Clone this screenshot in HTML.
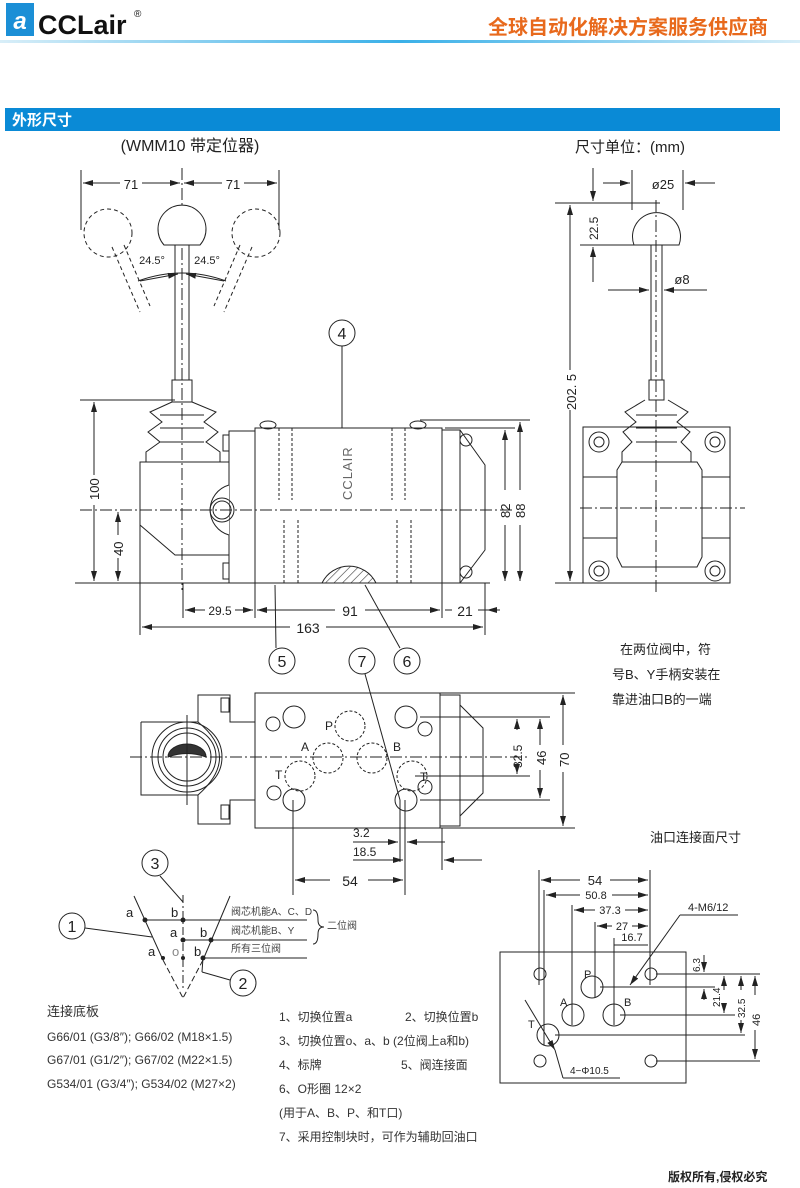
<!DOCTYPE html>
<html><head><meta charset="utf-8"><style>
body{margin:0;background:#fff;}
svg{display:block;font-family:"Liberation Sans","Noto Sans CJK SC",sans-serif;}
</style></head><body>
<svg width="800" height="1188" viewBox="0 0 800 1188" xmlns="http://www.w3.org/2000/svg">
<defs>
<linearGradient id="hl" x1="0" x2="1"><stop offset="0" stop-color="#d8eef8"/><stop offset="0.5" stop-color="#3ab0e8"/><stop offset="1" stop-color="#d8eef8"/></linearGradient>
<marker id="a" viewBox="0 0 10 6" refX="10" refY="3" markerWidth="10" markerHeight="6" orient="auto-start-reverse"><path d="M0,0L10,3L0,6z" fill="#222"/></marker>
<pattern id="h" width="6" height="6" patternUnits="userSpaceOnUse" patternTransform="rotate(45)"><line x1="0" y1="0" x2="0" y2="6" stroke="#333" stroke-width="1.2"/></pattern>
</defs>
<!-- header -->
<rect x="6" y="3" width="28" height="33" fill="#1b8fd6"/>
<text x="20" y="29" font-size="24" font-style="italic" font-weight="bold" fill="#fff" text-anchor="middle">a</text>
<text x="38" y="34" font-size="27" font-weight="bold" fill="#111">CCLair</text>
<text x="134" y="17" font-size="10" fill="#111">®</text>
<text x="768" y="34" font-size="20" font-weight="bold" fill="#e8691c" text-anchor="end">全球自动化解决方案服务供应商</text>
<rect x="0" y="40" width="800" height="3" fill="url(#hl)"/>
<rect x="5" y="108" width="775" height="23" fill="#0a8ad6"/>
<text x="12" y="125" font-size="15" font-weight="bold" fill="#fff">外形尺寸</text>

<g fill="none" stroke="#222" stroke-width="1">
<!-- ===== front view ===== -->
<text x="190" y="151" font-size="16" fill="#222" stroke="none" text-anchor="middle">(WMM10 带定位器)</text>
<line x1="81" y1="170" x2="81" y2="230"/><line x1="279" y1="170" x2="279" y2="230"/><line x1="182" y1="168" x2="182" y2="590" stroke-dasharray="12,3,2,3"/>
<line x1="83" y1="183" x2="120" y2="183" marker-start="url(#a)"/><line x1="142" y1="183" x2="180" y2="183" marker-end="url(#a)"/>
<line x1="184" y1="183" x2="222" y2="183" marker-start="url(#a)"/><line x1="244" y1="183" x2="277" y2="183" marker-end="url(#a)"/>
<text x="131" y="189" font-size="13" fill="#222" stroke="none" text-anchor="middle">71</text>
<text x="233" y="189" font-size="13" fill="#222" stroke="none" text-anchor="middle">71</text>
<path d="M164,245 A24,24 0 1 1 200,245 Z" fill="#fff"/>
<rect x="175" y="245" width="14" height="135"/><rect x="172" y="380" width="20" height="22"/>
<g stroke-dasharray="4,3"><circle cx="108" cy="233" r="24"/><circle cx="256" cy="233" r="24"/>
<line x1="112" y1="247" x2="140" y2="312"/><line x1="124" y1="245" x2="150" y2="306"/>
<line x1="252" y1="247" x2="224" y2="312"/><line x1="240" y1="245" x2="214" y2="306"/></g>
<path d="M138,281 Q182,265 226,281" /><line x1="140" y1="281" x2="178" y2="274" marker-end="url(#a)"/><line x1="224" y1="281" x2="186" y2="274" marker-end="url(#a)"/>
<text x="152" y="264" font-size="11" fill="#222" stroke="none" text-anchor="middle">24.5°</text>
<text x="207" y="264" font-size="11" fill="#222" stroke="none" text-anchor="middle">24.5°</text>
<path d="M172,402 L150,412 L162,422 L148,432 L160,442 L146,452 L146,462 L220,462 L220,452 L206,442 L218,432 L204,422 L216,412 L192,402"/>
<line x1="160" y1="415" x2="204" y2="415"/><line x1="160" y1="428" x2="204" y2="428"/><line x1="160" y1="442" x2="204" y2="442"/>
<rect x="140" y="462" width="89" height="121"/>
<path d="M140,525 L175,555 L229,555"/>
<rect x="229" y="431" width="26" height="152"/>
<path d="M229,485 A26,26 0 0 0 229,535" fill="#fff"/><circle cx="222" cy="510" r="12"/><circle cx="222" cy="510" r="9"/>
<rect x="223" y="435" width="6" height="16"/><rect x="223" y="563" width="6" height="16"/>
<rect x="255" y="428" width="187" height="155"/>
<g stroke-dasharray="3,2"><line x1="279" y1="428" x2="279" y2="500"/><line x1="292" y1="428" x2="292" y2="500"/><line x1="284" y1="520" x2="284" y2="583"/><line x1="298" y1="520" x2="298" y2="583"/>
<line x1="392" y1="428" x2="392" y2="500"/><line x1="405" y1="428" x2="405" y2="500"/><line x1="397" y1="520" x2="397" y2="583"/><line x1="411" y1="520" x2="411" y2="583"/></g>
<text x="0" y="0" font-size="13" fill="#666" stroke="none" transform="translate(352,500) rotate(-90)" letter-spacing="1">CCLAIR</text>
<path d="M322,583 A30,30 0 0 1 376,583 Z" fill="url(#h)"/>
<rect x="442" y="430" width="18" height="153"/><path d="M460,430 L485,465 L485,550 L460,583"/>
<circle cx="466" cy="440" r="6"/><circle cx="466" cy="572" r="6"/>
<ellipse cx="268" cy="425" rx="8" ry="4"/><ellipse cx="418" cy="425" rx="8" ry="4"/>
<line x1="80" y1="510" x2="515" y2="510" stroke-dasharray="12,3,2,3"/>
<line x1="75" y1="583" x2="490" y2="583"/>
<line x1="80" y1="400" x2="175" y2="400"/><line x1="94" y1="402" x2="94" y2="475" marker-start="url(#a)"/><line x1="94" y1="505" x2="94" y2="581" marker-end="url(#a)"/>
<text x="0" y="0" font-size="13" fill="#222" stroke="none" transform="translate(99,500) rotate(-90)">100</text>
<line x1="118" y1="512" x2="118" y2="535" marker-start="url(#a)"/><line x1="118" y1="558" x2="118" y2="581" marker-end="url(#a)"/>
<text x="0" y="0" font-size="13" fill="#222" stroke="none" transform="translate(123,556) rotate(-90)">40</text>
<line x1="420" y1="420" x2="530" y2="420"/><line x1="445" y1="428" x2="515" y2="428"/>
<line x1="505" y1="430" x2="505" y2="490" marker-start="url(#a)"/><line x1="505" y1="525" x2="505" y2="581" marker-end="url(#a)"/>
<text x="0" y="0" font-size="13" fill="#222" stroke="none" transform="translate(510,518) rotate(-90)">82</text>
<line x1="520" y1="422" x2="520" y2="490" marker-start="url(#a)"/><line x1="520" y1="525" x2="520" y2="581" marker-end="url(#a)"/>
<text x="0" y="0" font-size="13" fill="#222" stroke="none" transform="translate(525,518) rotate(-90)">88</text>
<line x1="140" y1="583" x2="140" y2="635"/><line x1="183" y1="583" x2="183" y2="618"/><line x1="255" y1="583" x2="255" y2="618"/><line x1="442" y1="583" x2="442" y2="618"/><line x1="485" y1="583" x2="485" y2="635"/>
<line x1="185" y1="610" x2="205" y2="610" marker-start="url(#a)"/><line x1="235" y1="610" x2="253" y2="610" marker-end="url(#a)"/>
<text x="220" y="615" font-size="12" fill="#222" stroke="none" text-anchor="middle">29.5</text>
<line x1="257" y1="610" x2="335" y2="610" marker-start="url(#a)"/><line x1="365" y1="610" x2="440" y2="610" marker-end="url(#a)"/>
<text x="350" y="616" font-size="14" fill="#222" stroke="none" text-anchor="middle">91</text>
<line x1="445" y1="610" x2="452" y2="610"/><line x1="478" y1="610" x2="500" y2="610"/><line x1="500" y1="610" x2="487" y2="610" marker-end="url(#a)"/>
<text x="465" y="616" font-size="14" fill="#222" stroke="none" text-anchor="middle">21</text>
<line x1="142" y1="627" x2="290" y2="627" marker-start="url(#a)"/><line x1="326" y1="627" x2="483" y2="627" marker-end="url(#a)"/>
<text x="308" y="633" font-size="14" fill="#222" stroke="none" text-anchor="middle">163</text>
<circle cx="342" cy="333" r="13"/><line x1="342" y1="346" x2="342" y2="428"/>
<text x="342" y="339" font-size="16" fill="#222" stroke="none" text-anchor="middle">4</text>
<circle cx="282" cy="661" r="13"/><line x1="276" y1="648" x2="275" y2="585"/>
<text x="282" y="667" font-size="16" fill="#222" stroke="none" text-anchor="middle">5</text>
<circle cx="362" cy="661" r="13"/><line x1="365" y1="674" x2="400" y2="800"/>
<text x="362" y="667" font-size="16" fill="#222" stroke="none" text-anchor="middle">7</text>
<circle cx="407" cy="661" r="13"/><line x1="400" y1="648" x2="365" y2="585"/>
<text x="407" y="667" font-size="16" fill="#222" stroke="none" text-anchor="middle">6</text>

<!-- ===== side view ===== -->
<text x="575" y="152" font-size="15" fill="#222" stroke="none">尺寸单位：(mm)</text>
<line x1="632" y1="170" x2="632" y2="210"/><line x1="683" y1="170" x2="683" y2="210"/>
<line x1="603" y1="183" x2="630" y2="183" marker-end="url(#a)"/><line x1="715" y1="183" x2="685" y2="183" marker-end="url(#a)"/>
<text x="663" y="189" font-size="13" fill="#222" stroke="none" text-anchor="middle">ø25</text>
<line x1="555" y1="203" x2="660" y2="203"/><line x1="580" y1="245" x2="642" y2="245"/>
<line x1="593" y1="168" x2="593" y2="201" marker-end="url(#a)"/><line x1="593" y1="282" x2="593" y2="247" marker-end="url(#a)"/>
<text x="0" y="0" font-size="12" fill="#222" stroke="none" transform="translate(598,240) rotate(-90)">22.5</text>
<path d="M634,245 A24,24 0 1 1 679,245 Z" fill="#fff"/>
<rect x="651" y="245" width="11" height="135"/><rect x="649" y="380" width="15" height="20"/>
<line x1="608" y1="290" x2="649" y2="290" marker-end="url(#a)"/><line x1="707" y1="290" x2="664" y2="290" marker-end="url(#a)"/>
<text x="682" y="284" font-size="13" fill="#222" stroke="none" text-anchor="middle">ø8</text>
<line x1="570" y1="205" x2="570" y2="370" marker-start="url(#a)"/><line x1="570" y1="410" x2="570" y2="581" marker-end="url(#a)"/>
<text x="0" y="0" font-size="13" fill="#222" stroke="none" transform="translate(576,410) rotate(-90)">202. 5</text>
<path d="M645,400 L625,412 L636,422 L623,432 L632,442 L622,452 L622,462 L691,462 L691,452 L681,442 L690,432 L677,422 L688,412 L668,400"/>
<line x1="636" y1="415" x2="677" y2="415"/><line x1="636" y1="428" x2="677" y2="428"/><line x1="636" y1="442" x2="677" y2="442"/>
<rect x="583" y="427" width="147" height="156"/>
<path d="M622,462 L697,462 L702,470 L702,557 L697,567 L622,567 L617,557 L617,470 Z"/>
<line x1="583" y1="477" x2="617" y2="477"/><line x1="702" y1="477" x2="730" y2="477"/><line x1="583" y1="538" x2="617" y2="538"/><line x1="702" y1="538" x2="730" y2="538"/>
<circle cx="599" cy="442" r="10"/><circle cx="599" cy="442" r="5"/><circle cx="715" cy="442" r="10"/><circle cx="715" cy="442" r="5"/>
<circle cx="599" cy="571" r="10"/><circle cx="599" cy="571" r="5"/><circle cx="715" cy="571" r="10"/><circle cx="715" cy="571" r="5"/>
<line x1="580" y1="508" x2="745" y2="508" stroke-dasharray="12,3,2,3"/><line x1="656" y1="200" x2="656" y2="595" stroke-dasharray="12,3,2,3"/>
<line x1="555" y1="583" x2="583" y2="583"/>
<text x="620" y="654" font-size="13" fill="#222" stroke="none">在两位阀中，符</text>
<text x="612" y="679" font-size="13" fill="#222" stroke="none">号B、Y手柄安装在</text>
<text x="612" y="704" font-size="13" fill="#222" stroke="none">靠进油口B的一端</text>

<!-- ===== bottom view ===== -->
<path d="M141,722 L198,722 L198,695 L230,695 L230,722 L255,722 M141,722 L141,795 L198,795 L198,824 L230,824 L230,800 L255,800 M198,722 Q241,757 198,795"/>
<rect x="221" y="698" width="8" height="14"/><rect x="221" y="805" width="8" height="14"/>
<circle cx="187" cy="757" r="35"/><circle cx="187" cy="757" r="29"/><circle cx="187" cy="757" r="24"/>
<path d="M168,757 A19,13 0 0 1 206,757 Q187,750 168,757Z" fill="#333"/>
<rect x="255" y="693" width="185" height="135"/>
<rect x="440" y="695" width="20" height="131"/><path d="M460,705 L483,728 L483,793 L460,816"/>
<line x1="130" y1="757" x2="530" y2="757" stroke-dasharray="12,3,2,3"/><line x1="187" y1="715" x2="187" y2="805"/>
<circle cx="294" cy="717" r="11"/><circle cx="406" cy="717" r="11"/><circle cx="294" cy="800" r="11"/><circle cx="406" cy="800" r="11"/>
<circle cx="273" cy="724" r="7"/><circle cx="425" cy="729" r="7"/><circle cx="274" cy="793" r="7"/><circle cx="425" cy="787" r="7"/>
<g stroke-dasharray="3,2"><circle cx="350" cy="726" r="15"/><circle cx="328" cy="758" r="15"/><circle cx="372" cy="758" r="15"/><circle cx="300" cy="776" r="15"/><circle cx="412" cy="776" r="15"/></g>
<g font-size="12" fill="#222" stroke="none"><text x="325" y="730">P</text><text x="301" y="751">A</text><text x="393" y="751">B</text><text x="275" y="779">T</text><text x="420" y="781">T</text></g>
<line x1="440" y1="693" x2="575" y2="693"/><line x1="440" y1="828" x2="575" y2="828"/><line x1="420" y1="717" x2="550" y2="717"/><line x1="420" y1="800" x2="550" y2="800"/><line x1="415" y1="776" x2="530" y2="776"/>
<line x1="517" y1="719" x2="517" y2="730" marker-start="url(#a)"/><line x1="517" y1="770" x2="517" y2="774" marker-end="url(#a)"/>
<text x="0" y="0" font-size="12" fill="#222" stroke="none" transform="translate(522,768) rotate(-90)">32.5</text>
<line x1="540" y1="719" x2="540" y2="745" marker-start="url(#a)"/><line x1="540" y1="770" x2="540" y2="798" marker-end="url(#a)"/>
<text x="0" y="0" font-size="13" fill="#222" stroke="none" transform="translate(546,765) rotate(-90)">46</text>
<line x1="563" y1="695" x2="563" y2="745" marker-start="url(#a)"/><line x1="563" y1="772" x2="563" y2="826" marker-end="url(#a)"/>
<text x="0" y="0" font-size="13" fill="#222" stroke="none" transform="translate(569,767) rotate(-90)">70</text>
<line x1="293" y1="800" x2="293" y2="895"/><line x1="405" y1="800" x2="405" y2="895"/><line x1="400" y1="800" x2="400" y2="862"/><line x1="442" y1="828" x2="442" y2="870"/>
<line x1="353" y1="842" x2="398" y2="842" marker-end="url(#a)"/><line x1="445" y1="842" x2="407" y2="842" marker-end="url(#a)"/>
<text x="353" y="837" font-size="12" fill="#222" stroke="none">3.2</text>
<line x1="353" y1="860" x2="403" y2="860" marker-end="url(#a)"/><line x1="482" y1="860" x2="444" y2="860" marker-end="url(#a)"/>
<text x="353" y="856" font-size="12" fill="#222" stroke="none">18.5</text>
<line x1="295" y1="880" x2="330" y2="880" marker-start="url(#a)"/><line x1="368" y1="880" x2="403" y2="880" marker-end="url(#a)"/>
<text x="350" y="886" font-size="14" fill="#222" stroke="none" text-anchor="middle">54</text>

<!-- ===== position diagram ===== -->
<circle cx="155" cy="863" r="13"/><text x="155" y="869" font-size="16" fill="#222" stroke="none" text-anchor="middle">3</text>
<line x1="160" y1="876" x2="183" y2="902"/><line x1="183" y1="895" x2="183" y2="990" stroke-dasharray="8,3,2,3"/>
<line x1="134" y1="896" x2="163" y2="960"/><line x1="230" y1="896" x2="203" y2="960"/>
<line x1="163" y1="960" x2="183" y2="998" stroke-dasharray="6,3"/><line x1="203" y1="960" x2="183" y2="998" stroke-dasharray="6,3"/>
<line x1="145" y1="920" x2="307" y2="920"/><line x1="183" y1="940" x2="307" y2="940"/><line x1="203" y1="958" x2="307" y2="958"/>
<g fill="#222" stroke="none"><circle cx="145" cy="920" r="2.5"/><circle cx="183" cy="920" r="2.5"/><circle cx="183" cy="940" r="2.5"/><circle cx="211" cy="940" r="2.5"/><circle cx="203" cy="958" r="2.5"/><circle cx="163" cy="958" r="2"/><circle cx="183" cy="958" r="2"/></g>
<g font-size="13" fill="#222" stroke="none"><text x="126" y="917">a</text><text x="171" y="917">b</text><text x="170" y="937">a</text><text x="200" y="937">b</text><text x="148" y="956">a</text><text x="172" y="956" fill="#888">o</text><text x="194" y="956">b</text></g>
<g font-size="10" fill="#444" stroke="none"><text x="231" y="915">阀芯机能A、C、D</text><text x="231" y="934">阀芯机能B、Y</text><text x="231" y="952">所有三位阀</text><text x="327" y="929">二位阀</text></g>
<path d="M313,910 Q318,910 318,920 Q318,927 324,927 Q318,927 318,934 Q318,944 313,944"/>
<circle cx="72" cy="926" r="13"/><text x="72" y="932" font-size="16" fill="#222" stroke="none" text-anchor="middle">1</text>
<line x1="85" y1="928" x2="152" y2="937"/>
<circle cx="243" cy="983" r="13"/><text x="243" y="989" font-size="16" fill="#222" stroke="none" text-anchor="middle">2</text>
<line x1="230" y1="980" x2="202" y2="972"/><line x1="202" y1="972" x2="203" y2="958"/>

<!-- ===== interface ===== -->
<text x="650" y="842" font-size="13" fill="#222" stroke="none">油口连接面尺寸</text>
<rect x="500" y="952" width="186" height="131"/>
<circle cx="540" cy="974" r="6"/><circle cx="651" cy="974" r="6"/><circle cx="540" cy="1061" r="6"/><circle cx="651" cy="1061" r="6"/>
<circle cx="592" cy="987" r="11"/><circle cx="573" cy="1015" r="11"/><circle cx="614" cy="1015" r="11"/><circle cx="548" cy="1035" r="11"/>
<g font-size="11" fill="#222" stroke="none"><text x="584" y="978">P</text><text x="560" y="1006">A</text><text x="624" y="1006">B</text><text x="528" y="1028">T</text></g>
<line x1="539" y1="870" x2="539" y2="985"/><line x1="544" y1="890" x2="544" y2="1045"/><line x1="572" y1="905" x2="572" y2="1025"/><line x1="595" y1="922" x2="595" y2="998"/><line x1="614" y1="938" x2="614" y2="1025"/><line x1="650" y1="870" x2="650" y2="985"/>
<line x1="541" y1="880" x2="580" y2="880" marker-start="url(#a)"/><line x1="610" y1="880" x2="648" y2="880" marker-end="url(#a)"/>
<text x="595" y="885" font-size="13" fill="#222" stroke="none" text-anchor="middle">54</text>
<line x1="546" y1="895" x2="580" y2="895" marker-start="url(#a)"/><line x1="612" y1="895" x2="648" y2="895" marker-end="url(#a)"/>
<text x="596" y="899" font-size="11" fill="#222" stroke="none" text-anchor="middle">50.8</text>
<line x1="574" y1="910" x2="595" y2="910" marker-start="url(#a)"/><line x1="625" y1="910" x2="648" y2="910" marker-end="url(#a)"/>
<text x="610" y="914" font-size="11" fill="#222" stroke="none" text-anchor="middle">37.3</text>
<line x1="597" y1="926" x2="612" y2="926" marker-start="url(#a)"/><line x1="632" y1="926" x2="648" y2="926" marker-end="url(#a)"/>
<text x="622" y="930" font-size="11" fill="#222" stroke="none" text-anchor="middle">27</text>
<line x1="614" y1="945" x2="648" y2="945"/><text x="632" y="941" font-size="11" fill="#222" stroke="none" text-anchor="middle">16.7</text>
<line x1="656" y1="974" x2="760" y2="974"/><line x1="600" y1="987" x2="715" y2="987"/><line x1="620" y1="1015" x2="735" y2="1015"/><line x1="555" y1="1035" x2="745" y2="1035"/><line x1="656" y1="1061" x2="760" y2="1061"/>
<line x1="704" y1="955" x2="704" y2="972" marker-end="url(#a)"/><line x1="704" y1="1000" x2="704" y2="989" marker-end="url(#a)"/>
<text x="0" y="0" font-size="10" fill="#222" stroke="none" transform="translate(700,972) rotate(-90)">6.3</text>
<line x1="724" y1="976" x2="724" y2="990" marker-start="url(#a)"/><line x1="724" y1="1005" x2="724" y2="1013" marker-end="url(#a)"/>
<text x="0" y="0" font-size="10" fill="#222" stroke="none" transform="translate(720,1007) rotate(-90)">21.4</text>
<line x1="741" y1="976" x2="741" y2="990" marker-start="url(#a)"/><line x1="741" y1="1020" x2="741" y2="1033" marker-end="url(#a)"/>
<text x="0" y="0" font-size="10" fill="#222" stroke="none" transform="translate(745,1018) rotate(-90)">32.5</text>
<line x1="755" y1="976" x2="755" y2="995" marker-start="url(#a)"/><line x1="755" y1="1030" x2="755" y2="1059" marker-end="url(#a)"/>
<text x="0" y="0" font-size="11" fill="#222" stroke="none" transform="translate(760,1026) rotate(-90)">46</text>
<line x1="738" y1="915" x2="680" y2="915"/><line x1="680" y1="915" x2="630" y2="985" marker-end="url(#a)"/>
<text x="688" y="911" font-size="11" fill="#222" stroke="none">4-M6/12</text>
<line x1="525" y1="1000" x2="555" y2="1050" marker-end="url(#a)"/><line x1="555" y1="1050" x2="563" y2="1078"/><line x1="563" y1="1078" x2="620" y2="1078"/>
<text x="570" y="1074" font-size="10" fill="#222" stroke="none">4−Φ10.5</text>
</g>

<g font-size="12" fill="#333">
<text x="47" y="1016" font-size="13">连接底板</text>
<text x="47" y="1041">G66/01 (G3/8″); G66/02 (M18×1.5)</text>
<text x="47" y="1064">G67/01 (G1/2″); G67/02 (M22×1.5)</text>
<text x="47" y="1088">G534/01 (G3/4″); G534/02 (M27×2)</text>
<text x="279" y="1021">1、切换位置a</text><text x="405" y="1021">2、切换位置b</text>
<text x="279" y="1045">3、切换位置o、a、b (2位阀上a和b)</text>
<text x="279" y="1069">4、标牌</text><text x="401" y="1069">5、阀连接面</text>
<text x="279" y="1093">6、O形圈 12×2</text>
<text x="279" y="1117">(用于A、B、P、和T口)</text>
<text x="279" y="1141">7、采用控制块时，可作为辅助回油口</text>
</g>
<text x="668" y="1181" font-size="12" font-weight="bold" fill="#222">版权所有,侵权必究</text>
</svg>
</body></html>
